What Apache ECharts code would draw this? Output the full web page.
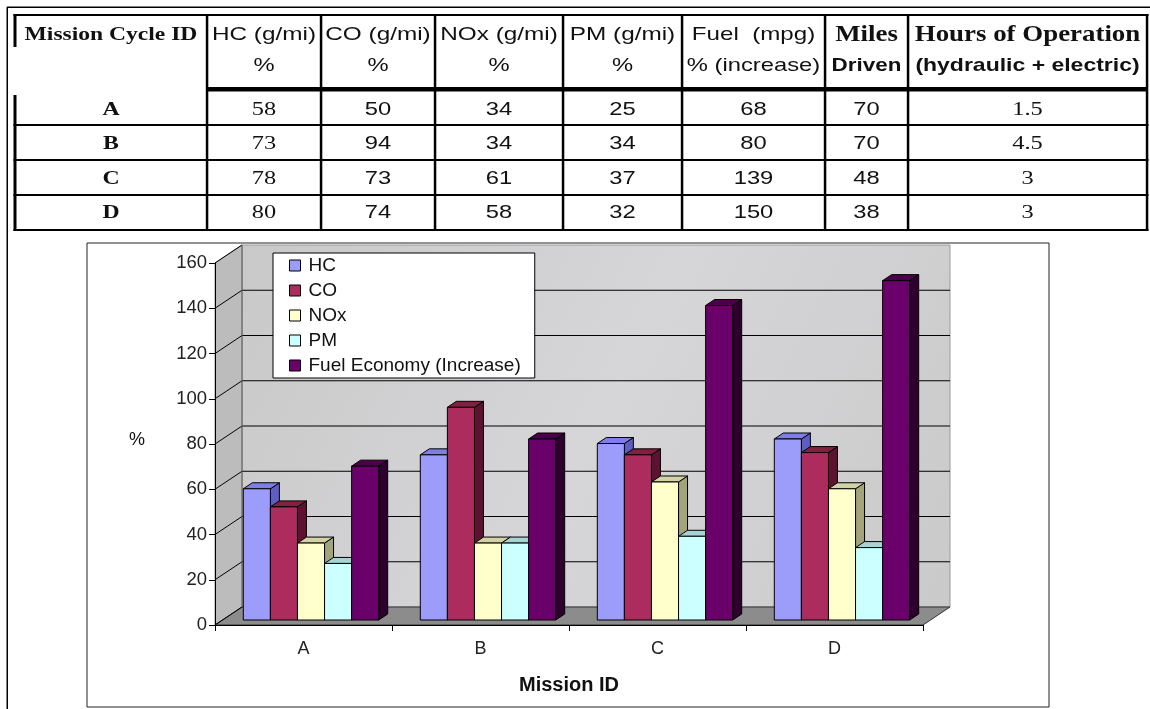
<!DOCTYPE html>
<html>
<head>
<meta charset="utf-8">
<script src="https://cdn.jsdelivr.net/npm/echarts@6/dist/echarts.min.js"></script>
<style>
html,body{margin:0;padding:0;background:#fff;}
#chart{width:1150px;height:709px;}
</style>
</head>
<body>
<div id="chart"></div>
<script>
// ---------- data ----------
const categories = ['A', 'B', 'C', 'D'];
const seriesNames = ['HC', 'CO', 'NOx', 'PM', 'Fuel Economy (Increase)'];
const hcValues = [58, 73, 78, 80];
const coValues = [50, 94, 73, 74];
const noxValues = [34, 34, 61, 58];
const pmValues = [25, 34, 37, 32];
const fuelValues = [68, 80, 139, 150];
const milesValues = [70, 70, 48, 38];
const hoursValues = ['1.5', '4.5', '3', '3'];
const yTickValues = [0, 20, 40, 60, 80, 100, 120, 140, 160];
const tableHeaderTop = ['Mission Cycle ID', 'HC (g/mi)', 'CO (g/mi)', 'NOx (g/mi)', 'PM (g/mi)', 'Fuel  (mpg)', 'Miles', 'Hours of Operation'];
const tableHeaderBottom = ['', '%', '%', '%', '%', '% (increase)', 'Driven', '(hydraulic + electric)'];
const yAxisTitle = '%';
const xAxisTitle = 'Mission ID';

const seriesValues = [hcValues, coValues, noxValues, pmValues, fuelValues];

// ---------- styles ----------
const palette = [
  { front: '#9c9cfb', top: '#7e7ee6', side: '#5d5dc4' },
  { front: '#ad2c5e', top: '#84203f', side: '#5c1230' },
  { front: '#ffffcc', top: '#d2d2a6', side: '#a3a37c' },
  { front: '#ccffff', top: '#a6d4d4', side: '#7fa8a8' },
  { front: '#6a006a', top: '#4a004a', side: '#2e002e' }
];
const WALL_DX = 27, WALL_DY = -18;
const FRONT_DX = 7.5, FRONT_DY = -5;
const BAR_DX = 9, BAR_DY = -6;
const BAR_FRAC = 0.153;

const SANS = '"Liberation Sans", Arial, sans-serif';
const SERIF = '"Liberation Serif", "Times New Roman", serif';

const chart = echarts.init(document.getElementById('chart'), null, { renderer: 'canvas' });

// ---------- table (graphic) ----------
const colBorders = [15, 207, 321, 435, 563, 682, 825, 908, 1147];
const colCenters = colBorders.slice(0, -1).map((x, i) => (x + colBorders[i + 1]) / 2);
const rowCenters = [110, 144, 179, 213];
const graphics = [];

function line(x, y, w, h) {
  graphics.push({ type: 'rect', shape: { x: x, y: y, width: w, height: h }, style: { fill: '#000' }, silent: true });
}
function cellText(text, cx, cy, font, sx) {
  graphics.push({
    type: 'text', x: cx, y: cy, scaleX: sx, silent: true,
    style: { text: text, x: 0, y: 0, font: font, fill: '#111', align: 'center', verticalAlign: 'middle' }
  });
}

// page frame
line(7, 6.5, 1143, 1.5);
line(6.5, 7, 1.5, 702);
// table borders
line(13.5, 14, 1135, 2);
line(13.5, 14, 3, 33);
line(13.5, 95, 3, 136);
line(207, 87, 941, 4.5);
[124, 159, 194, 229].forEach(y => line(13.5, y, 1135, 2));
colBorders.slice(1).forEach(x => line(x - 1.2, 14, 2.5, 217));

const headTopFonts = ['bold 19px ' + SERIF, '19px ' + SANS, '19px ' + SANS, '19px ' + SANS, '19px ' + SANS, '19px ' + SANS, 'bold 24px ' + SERIF, 'bold 24px ' + SERIF];
const headTopScale = [1.24, 1.28, 1.28, 1.28, 1.28, 1.27, 1.12, 1.12];
const headBotFonts = ['', '19px ' + SANS, '19px ' + SANS, '19px ' + SANS, '19px ' + SANS, '19px ' + SANS, 'bold 19px ' + SANS, 'bold 19px ' + SANS];
const headBotScale = [1, 1.25, 1.25, 1.25, 1.25, 1.25, 1.18, 1.21];
tableHeaderTop.forEach((t, i) => cellText(t, colCenters[i], 35, headTopFonts[i], headTopScale[i]));
tableHeaderBottom.forEach((t, i) => { if (t) cellText(t, colCenters[i], 66, headBotFonts[i], headBotScale[i]); });

const tableCols = [categories, hcValues, coValues, noxValues, pmValues, fuelValues, milesValues, hoursValues];
const colFonts = ['bold 19px ' + SERIF, '19.5px ' + SERIF, '19px ' + SANS, '19px ' + SANS, '19px ' + SANS, '19px ' + SANS, '19px ' + SANS, '19.5px ' + SERIF];
tableCols.forEach((col, c) => {
  col.forEach((v, r) => cellText(String(v), colCenters[c], rowCenters[r], colFonts[c], 1.25));
});

// chart frame and y title
graphics.push({ type: 'rect', shape: { x: 87, y: 243, width: 962, height: 464 }, style: { fill: 'none', stroke: '#222', lineWidth: 1 }, silent: true });
graphics.push({ type: 'text', x: 137, y: 440, silent: true, style: { text: yAxisTitle, x: 0, y: 0, font: '18px ' + SANS, fill: '#111', align: 'center', verticalAlign: 'middle' } });

// ---------- series ----------
const wallSeries = {
  type: 'custom',
  name: '__walls',
  coordinateSystem: 'cartesian2d',
  silent: true,
  data: [[0, 0]],
  encode: { x: 0, y: 1 },
  renderItem: function (params, api) {
    const cs = params.coordSys;
    const L = cs.x, R = cs.x + cs.width, T = cs.y, B = cs.y + cs.height;
    const dx = WALL_DX, dy = WALL_DY;
    const children = [];
    children.push({
      type: 'rect', shape: { x: L + dx, y: T + dy, width: R - L, height: B - T },
      style: { fill: new echarts.graphic.LinearGradient(0, 0, 1, 1, [
        { offset: 0, color: '#c9c9c9' }, { offset: 0.5, color: '#d6d5d8' }, { offset: 1, color: '#cacaca' }
      ]), stroke: '#9a9a9a', lineWidth: 1 }
    });
    children.push({
      type: 'polygon', shape: { points: [[L, T], [L + dx, T + dy], [L + dx, B + dy], [L, B]] },
      style: { fill: '#bcbcbc', stroke: '#8a8a8a', lineWidth: 1 }
    });
    children.push({
      type: 'polygon', shape: { points: [[L, B], [L + dx, B + dy], [R + dx, B + dy], [R, B]] },
      style: { fill: '#8c8c8c', stroke: '#333', lineWidth: 1 }
    });
    yTickValues.forEach(function (v) {
      const y = api.coord([0, v])[1];
      if (v > yTickValues[0] && v < yTickValues[yTickValues.length - 1]) {
        children.push({ type: 'line', shape: { x1: L + dx, y1: y + dy, x2: R + dx, y2: y + dy }, style: { stroke: '#000', lineWidth: 1 } });
      }
      children.push({ type: 'line', shape: { x1: L, y1: y, x2: L + dx, y2: y + dy }, style: { stroke: '#000', lineWidth: 1 } });
    });
    children.push({ type: 'line', shape: { x1: L + dx, y1: T + dy, x2: L + dx, y2: B + dy }, style: { stroke: '#666', lineWidth: 1 } });
    return { type: 'group', children: children };
  }
};

function makeBarSeries(idx) {
  const c = palette[idx];
  return {
    type: 'custom',
    name: seriesNames[idx],
    coordinateSystem: 'cartesian2d',
    itemStyle: { color: c.front, borderColor: '#000', borderWidth: 1 },
    data: seriesValues[idx].map((v, i) => [i, v]),
    encode: { x: 0, y: 1 },
    renderItem: function (params, api) {
      const cat = api.value(0), val = api.value(1);
      const band = api.size([1, 0])[0];
      const barW = band * BAR_FRAC;
      const base = api.coord([cat, 0]);
      const top = api.coord([cat, val]);
      const x0 = base[0] - 2.5 * barW + idx * barW + FRONT_DX;
      const x1 = x0 + barW;
      const yB = base[1] + FRONT_DY, yT = top[1] + FRONT_DY;
      const st = { stroke: '#000', lineWidth: 1 };
      return {
        type: 'group', children: [
          { type: 'polygon', shape: { points: [[x1, yT], [x1 + BAR_DX, yT + BAR_DY], [x1 + BAR_DX, yB + BAR_DY], [x1, yB]] }, style: Object.assign({ fill: c.side }, st) },
          { type: 'polygon', shape: { points: [[x0, yT], [x0 + BAR_DX, yT + BAR_DY], [x1 + BAR_DX, yT + BAR_DY], [x1, yT]] }, style: Object.assign({ fill: c.top }, st) },
          { type: 'rect', shape: { x: x0, y: yT, width: barW, height: yB - yT }, style: Object.assign({ fill: c.front }, st) }
        ]
      };
    }
  };
}

const option = {
  animation: false,
  backgroundColor: '#fff',
  textStyle: { fontFamily: SANS },
  grid: { left: 215, top: 263, width: 708, height: 362, containLabel: false },
  legend: {
    data: seriesNames,
    orient: 'vertical',
    left: 273, top: 253,
    icon: 'rect',
    itemWidth: 11, itemHeight: 11,
    itemGap: 6,
    padding: [3, 14, 3, 16],
    backgroundColor: '#fff',
    borderColor: '#000', borderWidth: 1, borderRadius: 0,
    itemStyle: { borderColor: '#000', borderWidth: 1 },
    textStyle: { fontFamily: SANS, fontSize: 19, color: '#111', padding: [0, 0, 0, 3] },
    selectedMode: false
  },
  xAxis: {
    type: 'category', data: categories, boundaryGap: true, z: 5,
    name: xAxisTitle, nameLocation: 'middle', nameGap: 50,
    nameTextStyle: { fontFamily: SANS, fontSize: 20, fontWeight: 'bold', color: '#111' },
    axisLine: { lineStyle: { color: '#000', width: 1 } },
    axisTick: { show: true, length: 6, lineStyle: { color: '#000' } },
    axisLabel: { fontFamily: SANS, fontSize: 18, color: '#222', margin: 15 },
    splitLine: { show: false }
  },
  yAxis: {
    type: 'value', z: 5,
    min: yTickValues[0], max: yTickValues[yTickValues.length - 1], interval: yTickValues[1] - yTickValues[0],
    axisLine: { show: true, lineStyle: { color: '#000', width: 1 } },
    axisTick: { show: true, length: 6, lineStyle: { color: '#000' } },
    axisLabel: { fontFamily: SANS, fontSize: 18.5, color: '#222', margin: 8 },
    splitLine: { show: false }
  },
  graphic: graphics,
  series: [wallSeries].concat(seriesNames.map((n, i) => makeBarSeries(i)))
};
chart.setOption(option);
</script>
</body>
</html>
